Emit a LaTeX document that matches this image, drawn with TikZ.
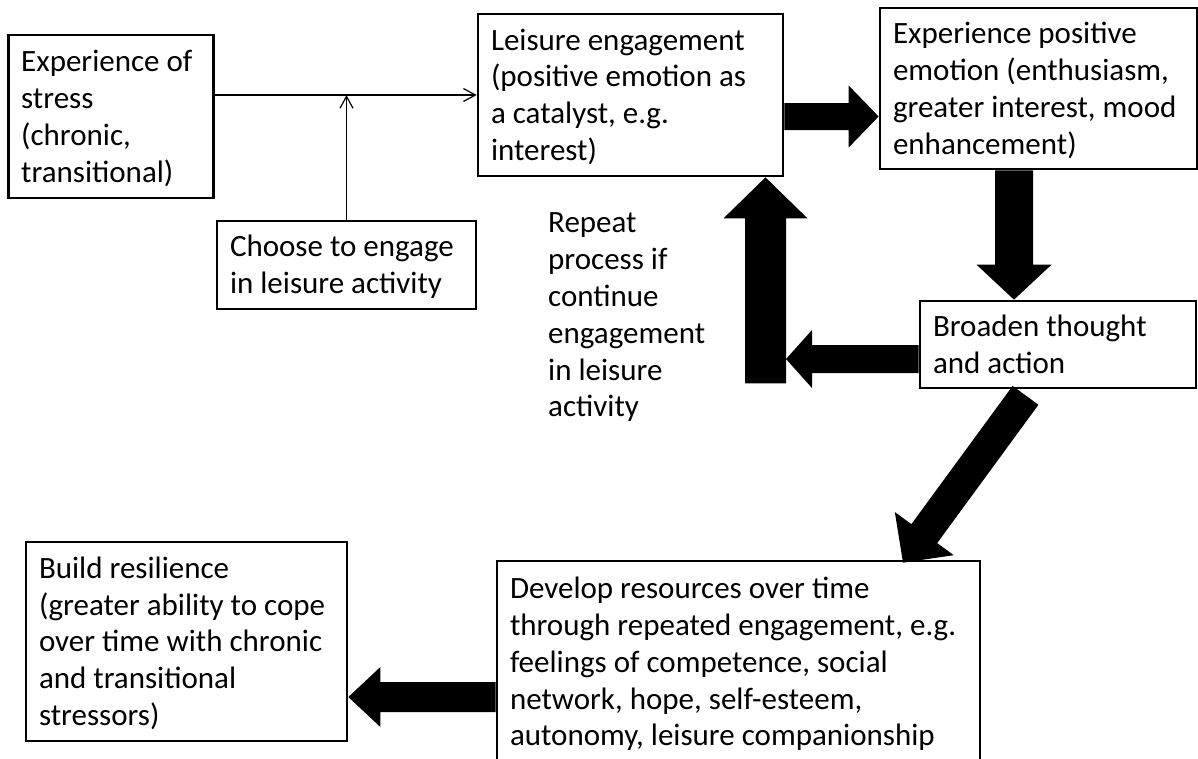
\documentclass[tikz,border=0pt]{standalone}
\usepackage{fontspec}
\setmainfont{Carlito}
\usetikzlibrary{calc,arrows.meta}
% block arrow: #1 start, #2 tip, #3 shaft half width, #4 head half width, #5 head length
\newcommand\blockarr[5]{%
  \coordinate (ba-h) at ($(#2)!#5!(#1)$);
  \fill[black] ($(#1)!#3!90:(#2)$) -- ($(ba-h)!#3!-90:(#1)$) -- ($(ba-h)!#4!-90:(#1)$)
     -- (#2) -- ($(ba-h)!#4!90:(#1)$) -- ($(ba-h)!#3!90:(#1)$) -- ($(#1)!#3!-90:(#2)$) -- cycle;
}
\begin{document}
\begin{tikzpicture}[x=1pt,y=-1pt,
  txt/.style={align=flush left, font=\fontsize{31}{36.8}\selectfont},
  box/.style={txt, draw, line width=2.7pt, fill=white, rectangle, inner xsep=13pt, inner ysep=0pt,
    execute at begin node={\rule{0pt}{31.8pt}}, execute at end node=\strut},
  thinarrow/.style={line width=1.2pt, -{Straight Barb[length=12pt,width=13pt]}}]
\fill[white] (0,0) rectangle (1198,758);
\useasboundingbox (0,0) rectangle (1198,758);

\node[box, minimum width=205.6pt, text width=179.6pt, minimum height=163pt] (b1) at (111,116.5)
  {Experience of\\stress\\(chronic,\\transitional)};
\node[box, minimum width=259pt, text width=233pt, minimum height=88pt] (b2) at (346.5,265)
  {Choose to engage\\in leisure activity};
\node[box, minimum width=305pt, text width=279pt, minimum height=162pt] (b3) at (630.5,95)
  {Leisure engagement\\(positive emotion as\\a catalyst, e.g.\\interest)};
\node[box, minimum width=317pt, text width=291pt, minimum height=161pt] (b4) at (1038.5,88.5)
  {Experience positive\\emotion (enthusiasm,\\greater interest, mood\\enhancement)};
\node[box, minimum width=276pt, text width=250pt, minimum height=87pt] (b5) at (1058,344.5)
  {Broaden thought\\and action};
\node[box, minimum width=321pt, text width=295pt, minimum height=199pt] (b6) at (186.5,641.5)
  {Build resilience\\(greater ability to cope\\over time with chronic\\and transitional\\stressors)};
\node[box, minimum width=483pt, text width=457pt, minimum height=202pt] (b7) at (738.5,662)
  {Develop resources over time\\through repeated engagement, e.g.\\feelings of competence, social\\network, hope, self-esteem,\\autonomy, leisure companionship};
\node[txt, inner sep=0pt, text width=175pt, anchor=north west,
  execute at begin node=\strut, execute at end node=\strut] (rep) at (548,207)
  {Repeat\\process if\\continue\\engagement\\in leisure\\activity};

% thin connectors
\draw[thinarrow] (b3.west -| b1.east) -- (b3.west);
\draw[thinarrow] (b2.north) -- (b2.north |- b3.west);

% block arrows
\coordinate (s1) at ($(b3.east)+(0,21.5)$);
\coordinate (t1) at (s1 -| b4.west);
\blockarr{s1}{t1}{13.5pt}{31pt}{30pt}

\coordinate (s2) at ($(b4.south)+(-24.5,0)$);
\coordinate (t2) at (s2 |- b5.north);
\blockarr{s2}{t2}{19pt}{37.5pt}{35pt}

\coordinate (upbase) at ($(b3.south)+(135,206)$);
\coordinate (uptip) at (upbase |- b3.south);
\blockarr{upbase}{uptip}{20.5pt}{42pt}{41pt}

\coordinate (s3) at ($(b5.west)+(0,14.5)$);
\coordinate (t3) at ($(s3 -| upbase)+(20.5,0)$);
\blockarr{s3}{t3}{14pt}{29pt}{26pt}

\coordinate (s4) at ($(b5.south)+(-32.5,6)$);
\coordinate (t4) at ($(b7.north)+(164.5,3)$);
\blockarr{s4}{t4}{16pt}{36.5pt}{36pt}

\coordinate (s5) at ($(b7.west)+(0,35)$);
\coordinate (t5) at (s5 -| b6.east);
\blockarr{s5}{t5}{15pt}{30pt}{32pt}
\end{tikzpicture}
\end{document}
